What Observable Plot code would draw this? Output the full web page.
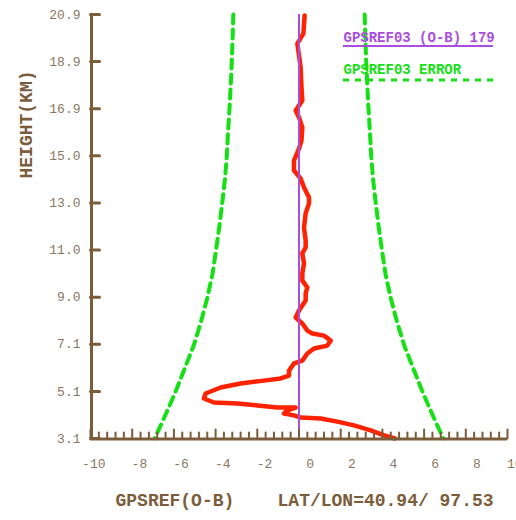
<!DOCTYPE html>
<html><head><meta charset="utf-8">
<script src="https://cdn.jsdelivr.net/npm/d3@7"></script>
<script src="https://cdn.jsdelivr.net/npm/@observablehq/plot@0.6"></script>
<style>
html,body{margin:0;padding:0;background:#fff;}
#chart{position:relative;width:516px;height:520px;}
#chart svg{display:block;}
#chart svg text{white-space:pre;}
</style></head><body><div id="chart"></div>
<script>
// O-B profile (height km, value)
const obHeights = [20.86,20.10,19.68,19.18,18.67,17.84,17.29,16.87,16.58,16.16,15.61,15.27,14.77,14.35,14.01,13.64,13.22,12.97,12.55,11.96,11.41,11.12,10.87,10.45,10.03,9.73,9.44,9.19,8.89,8.47,8.18,7.93,7.63,7.51,7.42,7.21,7.00,6.88,6.67,6.37,6.25,5.95,5.74,5.62,5.53,5.41,5.24,4.99,4.78,4.61,4.57,4.49,4.40,4.40,4.28,4.15,4.07,3.98,3.94,3.81,3.65,3.44,3.23,3.10];
const obValues  = [0.27,0.21,-0.08,0.00,0.08,0.12,0.16,-0.16,0.00,0.16,0.12,0.00,-0.24,-0.24,0.08,0.24,0.48,0.48,0.32,0.24,0.32,0.32,0.16,0.24,0.16,0.16,0.40,0.32,0.32,0.00,-0.16,0.16,0.40,0.64,1.20,1.52,1.36,0.72,0.40,0.16,-0.24,-0.48,-0.48,-0.88,-1.68,-2.80,-3.76,-4.48,-4.56,-4.08,-2.96,-1.98,-1.04,-0.16,-0.56,-0.72,-0.24,0.08,1.04,1.84,2.64,3.44,4.08,4.60];
// Error profile (height km, error)
const errHeights = [20.9,20.0,19.0,18.0,17.0,16.0,15.0,14.0,13.0,12.0,11.0,10.0,9.0,8.0,7.0,6.0,5.0,4.0,3.1];
const errValues  = [3.15,3.18,3.22,3.27,3.33,3.40,3.46,3.55,3.68,3.82,3.98,4.15,4.40,4.70,5.05,5.50,5.95,6.45,6.92];
const meanLine = 0;
const xTickLabels = [-10,-8,-6,-4,-2,0,2,4,6,8,10];
const yTickLabels = ["3.1","5.1","7.1","9.0","11.0","13.0","15.0","16.9","18.9","20.9"];
const xTitle = "GPSREF(O-B)    LAT/LON=40.94/ 97.53";
const yTitle = "HEIGHT(KM)";
const legendLabels = ["GPSREF03 (O-B) 179", "GPSREF03 ERROR"];

const brown = "#7b5c3b", tickText = "#8a7763", red = "#ff2200", purple = "#a94ce0", green = "#14e014";
const mono = "'Liberation Mono','DejaVu Sans Mono',monospace";
const yMin = 3.1, yMax = 20.9, xMin = -10, xMax = 10;

const obData = obHeights.map((h,i)=>({h, v: obValues[i]}));
const errData = errHeights.map((h,i)=>({h, e: errValues[i]}));
const yTicks = yTickLabels.map((t,i)=>({label:t, y: yMin + i*(yMax-yMin)/(yTickLabels.length-1)}));
const xMinor = d3.range(0, 51).map(i => xMin + i*0.4).filter((d,i) => i % 5 !== 0);
const xMajor = xTickLabels;
const tickShape = {draw(ctx, l){ ctx.moveTo(0,0); ctx.lineTo(0,-l); }};

const chart = Plot.plot({
  width: 516, height: 520,
  marginLeft: 90, marginRight: 9, marginTop: 14, marginBottom: 82,
  x: {domain: [xMin, xMax], axis: null},
  y: {domain: [yMin, yMax], axis: null},
  style: {background: "white", overflow: "visible"},
  marks: [
    Plot.line(errData, {x: d => -d.e, y: "h", stroke: green, strokeWidth: 4, strokeDasharray: "9,6"}),
    Plot.line(errData, {x: "e", y: "h", stroke: green, strokeWidth: 4, strokeDasharray: "9,6"}),
    Plot.line(obData, {x: "v", y: "h", stroke: red, strokeWidth: 4.5, strokeLinejoin: "round", strokeLinecap: "round"}),
    Plot.ruleX([meanLine], {stroke: purple, strokeWidth: 2}),
    // axes
    Plot.vector(xMinor, {x: d => d, y: yMin, length: 6, rotate: 0, anchor: "start", shape: tickShape, stroke: brown, strokeWidth: 2}),
    Plot.vector(xMajor, {x: d => d, y: yMin, length: 9, rotate: 0, anchor: "start", shape: tickShape, stroke: brown, strokeWidth: 2}),
    Plot.vector(yTicks, {x: xMin, y: "y", length: 9, rotate: 90, anchor: "start", shape: tickShape, stroke: brown, strokeWidth: 3}),
    Plot.ruleX([xMin], {stroke: brown, strokeWidth: 3, dx: 1}),
    Plot.ruleY([yMin], {stroke: brown, strokeWidth: 3, dy: 0.5}),
    Plot.text(xTickLabels, {x: d => d, y: yMin, text: d => String(d), dy: 25, dx: 15, textAnchor: "end", fill: tickText, fontFamily: mono, fontSize: 13}),
    Plot.text(yTicks, {x: xMin, y: "y", text: "label", dx: -10, textAnchor: "end", fill: tickText, fontFamily: mono, fontSize: 13}),
    Plot.text([yTitle], {frameAnchor: "left", rotate: -90, dx: -64, dy: -48, fill: brown, fontFamily: mono, fontWeight: "bold", fontSize: 18}),
    Plot.text([xTitle], {frameAnchor: "bottom-left", textAnchor: "start", dx: 25, dy: 67, fill: brown, fontFamily: mono, fontWeight: "bold", fontSize: 18}),
    Plot.text([legendLabels[0]], {frameAnchor: "top-right", textAnchor: "start", dx: -164, dy: 18, fill: purple, fontFamily: mono, fontWeight: "bold", fontSize: 14}),
    Plot.text([legendLabels[1]], {frameAnchor: "top-right", textAnchor: "start", dx: -164, dy: 50, fill: green, fontFamily: mono, fontWeight: "bold", fontSize: 14})
  ]
});
document.getElementById("chart").appendChild(chart);
const svg = d3.select(chart);
svg.append("line").attr("x1", 343).attr("x2", 493).attr("y1", 46).attr("y2", 46).attr("stroke", purple).attr("stroke-width", 2);
svg.append("line").attr("x1", 343).attr("x2", 493).attr("y1", 80).attr("y2", 80).attr("stroke", green).attr("stroke-width", 3).attr("stroke-dasharray", "6,6");
</script></body></html>
